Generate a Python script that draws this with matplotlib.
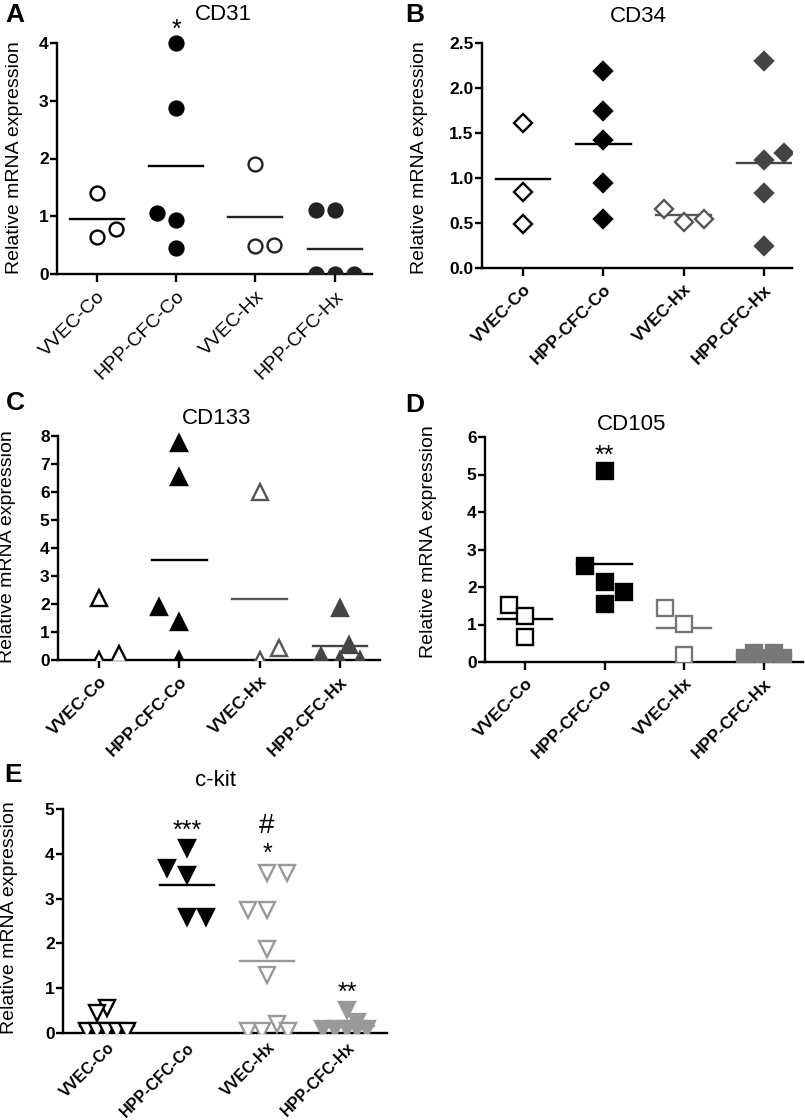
import numpy as np
import matplotlib
matplotlib.use("Agg")
from matplotlib import pyplot as plt

plt.rcParams['font.family'] = ['Liberation Sans', 'DejaVu Sans']

groups = ["VVEC-Co", "HPP-CFC-Co", "VVEC-Hx", "HPP-CFC-Hx"]

# values, one list per group
cd31_vals = [[1.40, 0.64, 0.78],
             [4.00, 2.87, 1.06, 0.93, 0.45],
             [1.90, 0.48, 0.51],
             [1.10, 1.10, 0.0, 0.0, 0.0]]
cd31_means = [0.95, 1.87, 0.98, 0.44]

cd34_vals = [[1.61, 0.84, 0.49],
             [2.19, 1.74, 1.42, 0.95, 0.55],
             [0.66, 0.51, 0.55],
             [2.30, 1.20, 1.28, 0.83, 0.24]]
cd34_means = [0.99, 1.38, 0.59, 1.17]

cd133_vals = [[2.20, 0.0, 0.21],
              [7.74, 6.55, 1.90, 1.37, 0.0],
              [5.99, 0.42, 0.0],
              [1.86, 0.54, 0.15, 0.0, 0.0]]
cd133_means = [None, 3.57, 2.17, 0.51]

cd105_vals = [[1.51, 1.24, 0.67],
              [5.09, 2.56, 2.13, 1.86, 1.56],
              [1.44, 1.02, 0.20],
              [0.25, 0.25, 0.12, 0.10, 0.10]]
cd105_means = [1.16, 2.62, 0.92, 0.16]

ckit_vals = [[0.55, 0.45, 0.05, 0.05, 0.05, 0.05, 0.05],
             [4.13, 3.68, 3.52, 2.60, 2.60],
             [3.57, 3.57, 2.75, 2.75, 1.88, 1.30, 0.05, 0.05, 0.20, 0.05],
             [0.51, 0.25, 0.08, 0.08, 0.08, 0.08, 0.08]]
ckit_means = [0.15, 3.31, 1.60, 0.15]

# significance marks: (column, baseline value, text)
cd31_stars = [(1, 4.11, "*")]
cd105_stars = [(1, 5.32, "**")]
ckit_stars = [(1, 4.35, "***"), (2, 3.84, "*"), (3, 0.73, "**")]
ckit_hash = [(2, 4.46, "#")]

# horizontal scatter of the points inside each column (category units)
cd31_jit = [[0, 0, 0.24], [0, 0, -0.24, 0, 0], [0, 0, 0.24], [-0.24, 0, -0.23, 0, 0.24]]
cd34_jit = [[0, 0, 0], [0, 0, 0, 0, 0], [-0.24, 0, 0.26], [0, 0, 0.25, 0, 0]]
cd133_jit = [[0, 0, 0.25], [0, 0, -0.25, 0, 0], [0, 0.24, 0], [0, 0.12, -0.24, 0, 0.25]]
cd105_jit = [[-0.2, 0, 0], [0, -0.24, 0, 0.24, 0], [-0.24, 0, 0], [-0.125, 0.12, -0.24, 0, 0.24]]
ckit_jit = [[0, -0.125, -0.25, -0.125, 0, 0.125, 0.25],
            [0, -0.25, 0, 0, 0.24],
            [0, 0.25, -0.24, 0, 0, 0, -0.24, -0.06, 0.12, 0.26],
            [0, 0.125, -0.3, -0.15, 0, 0.125, 0.25]]

W, H = 805, 1120
fig = plt.figure(figsize=(W / 100, H / 100), dpi=100)

def fx(x):
    return x / W

def fy(y):
    return 1 - y / H

# pixel box = (x0, x1, y of zero, y of top tick)
panels = [
    dict(letter="A", title="CD31", vals=cd31_vals, jit=cd31_jit, means=cd31_means,
         marker="o", ms=10, grey=("#222222", "#222222"), ymax=4, ticks=[0, 1, 2, 3, 4], fmt="{:.0f}",
         box=(57, 372, 274, 43), xlim=(-0.5, 3.47), ylab=(23, 158), tpos=(223, 15), lpos=(15, 15),
         stars=cd31_stars, xbold=False),
    dict(letter="B", title="CD34", vals=cd34_vals, jit=cd34_jit, means=cd34_means,
         marker="D", ms=9.5, grey=("#555555", "#444444"), ymax=2.5, ticks=[0, 0.5, 1.0, 1.5, 2.0, 2.5], fmt="{:.1f}",
         box=(482, 792, 268, 43), xlim=(-0.51, 3.35), ylab=(428, 158), tpos=(638, 16), lpos=(415, 15),
         stars=[], xbold=True),
    dict(letter="C", title="CD133", vals=cd133_vals, jit=cd133_jit, means=cd133_means,
         marker="^", ms=11, grey=("#555555", "#444444"), ymax=8, ticks=list(range(9)), fmt="{:.0f}",
         box=(58, 380, 660, 436), xlim=(-0.51, 3.5), ylab=(16, 547), tpos=(217, 419), lpos=(15, 403),
         stars=[], xbold=True),
    dict(letter="D", title="CD105", vals=cd105_vals, jit=cd105_jit, means=cd105_means,
         marker="s", ms=11, grey=("#777777", "#777777"), ymax=6, ticks=list(range(7)), fmt="{:.0f}",
         box=(485, 803, 662, 437), xlim=(-0.5, 3.49), ylab=(437, 542), tpos=(632, 424), lpos=(415, 405),
         stars=cd105_stars, xbold=True),
    dict(letter="E", title="c-kit", vals=ckit_vals, jit=ckit_jit, means=ckit_means,
         marker="v", ms=11, grey=("#999999", "#999999"), ymax=5, ticks=list(range(6)), fmt="{:.0f}",
         box=(63, 387, 1033, 809), xlim=(-0.55, 3.5), ylab=(18, 918), tpos=(215, 781), lpos=(13, 775),
         stars=ckit_stars, xbold=True),
]

for p in panels:
    x0, x1, yz, yt = p["box"]
    top = p["ymax"] * 1.08
    top_px = yz - (yz - yt) * 1.08
    ax = fig.add_axes([fx(x0), fy(yz), (x1 - x0) / W, (yz - top_px) / H])

    open_grey, fill_grey = p["grey"]
    styles = [("white", "black"), ("black", "black"), ("white", open_grey), (fill_grey, fill_grey)]
    for i, (vals, jit) in enumerate(zip(p["vals"], p["jit"])):
        face, edge = styles[i]
        xs = np.array(jit) + i
        ax.plot(xs, vals, linestyle="none", marker=p["marker"], ms=p["ms"],
                mfc=face, mec=edge, mew=1.7, zorder=3)
        m = p["means"][i]
        if m is not None:
            ax.plot([i - 0.34, i + 0.34], [m, m], color=edge, lw=1.7, zorder=2)

    ax.set_xlim(*p["xlim"])
    ax.set_ylim(0, top)
    ax.spines["top"].set_visible(False)
    ax.spines["right"].set_visible(False)
    ax.spines["left"].set_bounds(0, p["ymax"])
    for s in ("left", "bottom"):
        ax.spines[s].set_linewidth(1.7)
    ax.set_yticks(p["ticks"])
    ax.set_yticklabels([p["fmt"].format(t) for t in p["ticks"]], fontweight="bold", fontsize=12.5)
    ax.tick_params(axis="y", length=5, width=1.7, pad=1)
    ax.set_xticks(range(4))
    if p["letter"] == "E":
        ax.set_xticklabels(groups, rotation=45, ha="right", rotation_mode="anchor",
                           fontweight="bold", fontsize=11.5)
        ax.tick_params(axis="x", length=0, pad=5)
    elif p["xbold"]:
        ax.set_xticklabels(groups, rotation=45, ha="right", rotation_mode="anchor",
                           fontweight="bold", fontsize=12.5)
        ax.tick_params(axis="x", length=6, width=1.7, pad=4)
    else:
        ax.set_xticklabels(groups, rotation=45, ha="right", rotation_mode="anchor", fontsize=14)
        ax.tick_params(axis="x", length=6, width=1.7, pad=4)

    ax.set_ylabel("Relative mRNA expression", fontsize=14)
    lx, ly = p["ylab"]
    ax.yaxis.set_label_coords((lx - x0) / (x1 - x0), (yz - ly) / (yz - top_px))

    for cx, cy, txt in p["stars"]:
        ax.text(cx, cy, txt, ha="center", va="baseline", fontsize=18)
    if p["letter"] == "E":
        for cx, cy, txt in ckit_hash:
            ax.text(cx, cy, txt, ha="center", va="baseline", fontsize=20)

    fig.text(fx(p["tpos"][0]), fy(p["tpos"][1]), p["title"], ha="center", va="center", fontsize=16)
    fig.text(fx(p["lpos"][0]), fy(p["lpos"][1]), p["letter"], ha="center", va="center",
             fontsize=19, fontweight="bold")

fig.savefig("out.png", dpi=100)
